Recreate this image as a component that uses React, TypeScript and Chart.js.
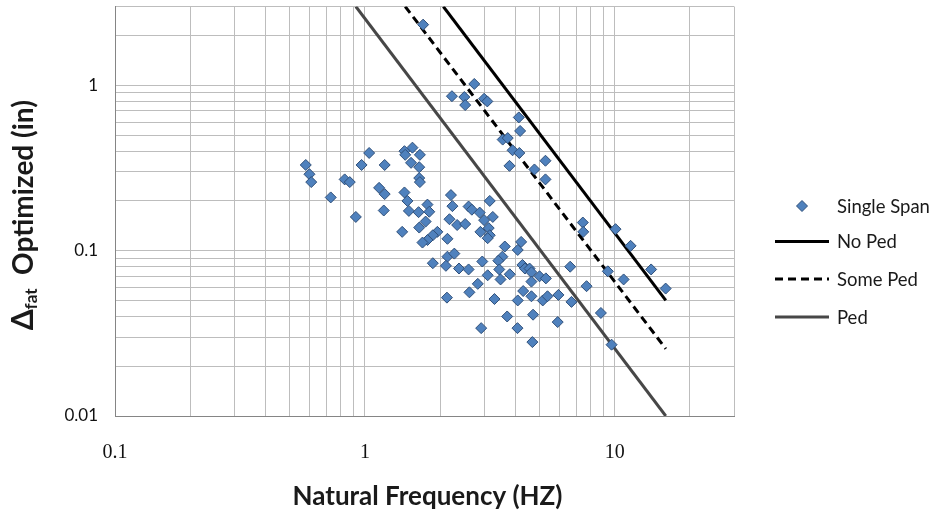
import React, { useEffect, useRef } from "react";
import { Chart, registerables } from "chart.js";

Chart.register(...registerables);

// Single span bridges: natural frequency (Hz) and optimized fatigue deflection (in)
const freqHz = [
  0.58, 0.6, 0.61, 0.73, 0.83, 0.87, 1.04, 0.97, 1.2, 1.14, 1.2, 0.92, 1.19, 1.44, 1.55, 1.45, 1.66, 1.53, 1.65, 1.65,
  1.66, 1.44, 1.48, 1.5, 1.41, 1.64, 1.78, 1.81, 1.75, 1.65, 1.95, 1.87, 1.78, 1.7,
  2.14, 2.21, 2.24, 2.18, 2.34, 2.52, 2.6, 2.68, 2.88, 3.0, 3.16, 3.25, 3.13, 2.9, 3.16, 3.1, 2.14, 2.28, 1.87, 2.11,
  2.38, 2.6, 2.95, 3.1, 2.83, 2.62, 2.13, 3.63, 4.09, 4.22, 3.55, 3.42, 3.45, 3.8, 3.49, 4.27, 4.37, 4.56, 4.64, 5.0,
  5.3, 4.64, 3.3, 4.3, 4.64, 4.09, 5.15, 5.38, 5.95, 6.71, 6.63, 7.71, 8.8, 5.91, 4.71, 3.71, 4.08, 2.92, 4.68, 9.71,
  1.71, 2.23, 2.5, 2.52, 2.74, 3.0, 3.09, 4.13, 4.18, 3.56, 3.73, 3.9, 4.15, 3.79, 4.77, 5.28, 5.28, 7.45, 7.48, 10.07,
  11.57, 9.38, 10.85, 13.98, 15.98,
];
const deltaIn = [
  0.33, 0.29, 0.26, 0.21, 0.27, 0.26, 0.39, 0.33, 0.33, 0.24, 0.22, 0.16, 0.175, 0.4, 0.42, 0.38, 0.38, 0.34, 0.32, 0.275,
  0.26, 0.225, 0.2, 0.174, 0.13, 0.171, 0.19, 0.172, 0.15, 0.138, 0.13, 0.124, 0.116, 0.112,
  0.118, 0.217, 0.186, 0.155, 0.143, 0.145, 0.185, 0.177, 0.17, 0.153, 0.2, 0.16, 0.137, 0.13, 0.124, 0.119, 0.092, 0.096, 0.084, 0.081,
  0.078, 0.077, 0.086, 0.071, 0.063, 0.056, 0.052, 0.106, 0.101, 0.113, 0.092, 0.087, 0.077, 0.072, 0.067, 0.082, 0.078, 0.078, 0.074, 0.07,
  0.068, 0.065, 0.051, 0.057, 0.053, 0.05, 0.05, 0.053, 0.054, 0.049, 0.08, 0.061, 0.042, 0.037, 0.041, 0.04, 0.034, 0.034, 0.028, 0.027,
  2.33, 0.86, 0.85, 0.76, 1.02, 0.83, 0.8, 0.64, 0.53, 0.47, 0.48, 0.405, 0.39, 0.326, 0.31, 0.35, 0.27, 0.148, 0.13, 0.135,
  0.107, 0.075, 0.067, 0.077, 0.059,
];

// Limit lines (endpoints)
const noPedFreq = [2.06, 16];
const noPedDelta = [3.0, 0.05];
const somePedFreq = [1.45, 16];
const somePedDelta = [3.0, 0.0255];
const pedFreq = [0.92, 16];
const pedDelta = [3.0, 0.01];

// Axes
const xTickValues = [
  0.1, 0.2, 0.3, 0.4, 0.5, 0.6, 0.7, 0.8, 0.9, 1, 2, 3, 4, 5, 6, 7, 8, 9, 10, 20, 30,
];
const xTickLabels = [0.1, 1, 10];
const yTickValues = [
  0.01, 0.02, 0.03, 0.04, 0.05, 0.06, 0.07, 0.08, 0.09, 0.1, 0.2, 0.3, 0.4, 0.5, 0.6, 0.7, 0.8, 0.9, 1, 2, 3,
];
const yTickLabels = [0.01, 0.1, 1];

const seriesNames = ["Single Span", "No Ped", "Some Ped", "Ped"];
const xTitle = "Natural Frequency (HZ)";
const yTitleMain = "\u0394";
const yTitleSub = "fat";
const yTitleRest = "  Optimized (in)";

const SANS = "Lato, 'Open Sans', sans-serif";
const SERIF = "'Liberation Serif', 'DejaVu Serif', serif";
const POINT_FILL = "#4f81bd";
const POINT_EDGE = "#2f4f79";
const PED_COLOR = "#474747";

const decorPlugin = {
  id: "decor",
  afterDraw(chart: any) {
    const { ctx, chartArea: a } = chart;
    ctx.save();
    ctx.fillStyle = "#1a1a1a";

    // X title
    ctx.font = `bold 26px ${SANS}`;
    ctx.textAlign = "center";
    ctx.textBaseline = "middle";
    ctx.fillText(xTitle, (a.left + a.right) / 2 + 3, a.bottom + 81);

    // Y title (rotated, with subscript)
    ctx.save();
    ctx.translate(22, (a.top + a.bottom) / 2 + 4);
    ctx.rotate(-Math.PI / 2);
    const f1 = `bold 30px ${SANS}`;
    const f2 = `bold 17px ${SANS}`;
    const f3 = `bold 28px ${SANS}`;
    ctx.font = f1;
    const w1 = ctx.measureText(yTitleMain).width;
    ctx.font = f2;
    const w2 = ctx.measureText(yTitleSub).width;
    ctx.font = f3;
    const w3 = ctx.measureText(yTitleRest).width;
    let x0 = -(w1 + w2 + w3) / 2;
    const base = 11;
    ctx.textAlign = "left";
    ctx.textBaseline = "alphabetic";
    ctx.font = f1;
    ctx.fillText(yTitleMain, x0, base);
    x0 += w1;
    ctx.font = f2;
    ctx.fillText(yTitleSub, x0, base + 4);
    x0 += w2;
    ctx.font = f3;
    ctx.fillText(yTitleRest, x0, base);
    ctx.restore();

    // Legend
    const lx = a.right + 41;
    const lw = 54;
    const tx = a.right + 103;
    const rows = [a.top + 199.5, a.top + 235, a.top + 272.5, a.top + 310.5];
    ctx.font = `18.5px ${SANS}`;
    ctx.textAlign = "left";
    ctx.textBaseline = "middle";

    // diamond
    const cx = lx + lw / 2;
    const cy = rows[0];
    const r = 5.5;
    ctx.beginPath();
    ctx.moveTo(cx - r, cy);
    ctx.lineTo(cx, cy - r);
    ctx.lineTo(cx + r, cy);
    ctx.lineTo(cx, cy + r);
    ctx.closePath();
    ctx.fillStyle = POINT_FILL;
    ctx.fill();
    ctx.strokeStyle = POINT_EDGE;
    ctx.lineWidth = 1;
    ctx.stroke();

    const lineStyles = [
      { color: "#000", dash: [] as number[] },
      { color: "#000", dash: [8, 5] },
      { color: PED_COLOR, dash: [] as number[] },
    ];
    lineStyles.forEach((s, i) => {
      const y = rows[i + 1];
      ctx.beginPath();
      ctx.setLineDash(s.dash);
      ctx.strokeStyle = s.color;
      ctx.lineWidth = 3;
      ctx.moveTo(lx, y);
      ctx.lineTo(lx + lw, y);
      ctx.stroke();
    });
    ctx.setLineDash([]);
    ctx.fillStyle = "#1a1a1a";
    seriesNames.forEach((n, i) => ctx.fillText(n, tx, rows[i] + 1));
    ctx.restore();
  },
};

export default function App() {
  const ref = useRef<HTMLCanvasElement | null>(null);

  useEffect(() => {
    if (!ref.current) return;
    const pts = freqHz.map((f, i) => ({ x: f, y: deltaIn[i] }));
    const mk = (fs: number[], ds: number[]) => fs.map((f, i) => ({ x: f, y: ds[i] }));
    const gridColor = "#bdbdbd";
    const chart = new Chart(ref.current, {
      type: "scatter",
      data: {
        datasets: [
          {
            label: seriesNames[0],
            data: pts,
            pointStyle: "rectRot",
            pointRadius: 5.5,
            pointBackgroundColor: POINT_FILL,
            pointBorderColor: POINT_EDGE,
            pointBorderWidth: 1,
            showLine: false,
          },
          {
            label: seriesNames[1],
            data: mk(noPedFreq, noPedDelta),
            showLine: true,
            borderColor: "#000",
            borderWidth: 3,
            pointRadius: 0,
          },
          {
            label: seriesNames[2],
            data: mk(somePedFreq, somePedDelta),
            showLine: true,
            borderColor: "#000",
            borderWidth: 3,
            borderDash: [8, 5],
            pointRadius: 0,
          },
          {
            label: seriesNames[3],
            data: mk(pedFreq, pedDelta),
            showLine: true,
            borderColor: PED_COLOR,
            borderWidth: 3,
            pointRadius: 0,
          },
        ],
      },
      options: {
        animation: false,
        responsive: false,
        devicePixelRatio: 1,
        layout: { padding: { left: 0, right: 199, top: 6, bottom: 0 } },
        plugins: { legend: { display: false }, tooltip: { enabled: false } },
        scales: {
          x: {
            type: "logarithmic",
            min: 0.1,
            max: 30,
            afterBuildTicks: (s: any) => {
              s.ticks = xTickValues.map((v) => ({ value: v }));
            },
            afterFit: (s: any) => {
              s.height = 95;
              s.paddingLeft = 0;
              s.paddingRight = 0;
            },
            grid: { color: gridColor, lineWidth: 1, drawTicks: false },
            border: { color: "#858585", width: 1 },
            ticks: {
              autoSkip: false,
              maxRotation: 0,
              padding: 25,
              color: "#111",
              font: { family: SERIF, size: 20 },
              callback: (v: any) => (xTickLabels.includes(Number(v)) ? String(v) : ""),
            },
          },
          y: {
            type: "logarithmic",
            min: 0.01,
            max: 3,
            afterBuildTicks: (s: any) => {
              s.ticks = yTickValues.map((v) => ({ value: v }));
            },
            afterFit: (s: any) => {
              s.width = 115;
              s.paddingTop = 0;
              s.paddingBottom = 0;
            },
            grid: { color: gridColor, lineWidth: 1, drawTicks: false },
            border: { color: "#858585", width: 1 },
            ticks: {
              autoSkip: false,
              padding: 17,
              color: "#111",
              font: { family: SANS, size: 17 },
              callback: (v: any) => (yTickLabels.includes(Number(v)) ? String(v) : ""),
            },
          },
        },
      },
      plugins: [decorPlugin],
    });
    return () => chart.destroy();
  }, []);

  return (
    <div style={{ position: "fixed", left: 0, top: 0, width: 933, height: 511, background: "#fff" }}>
      <canvas ref={ref} width={933} height={511} />
    </div>
  );
}
